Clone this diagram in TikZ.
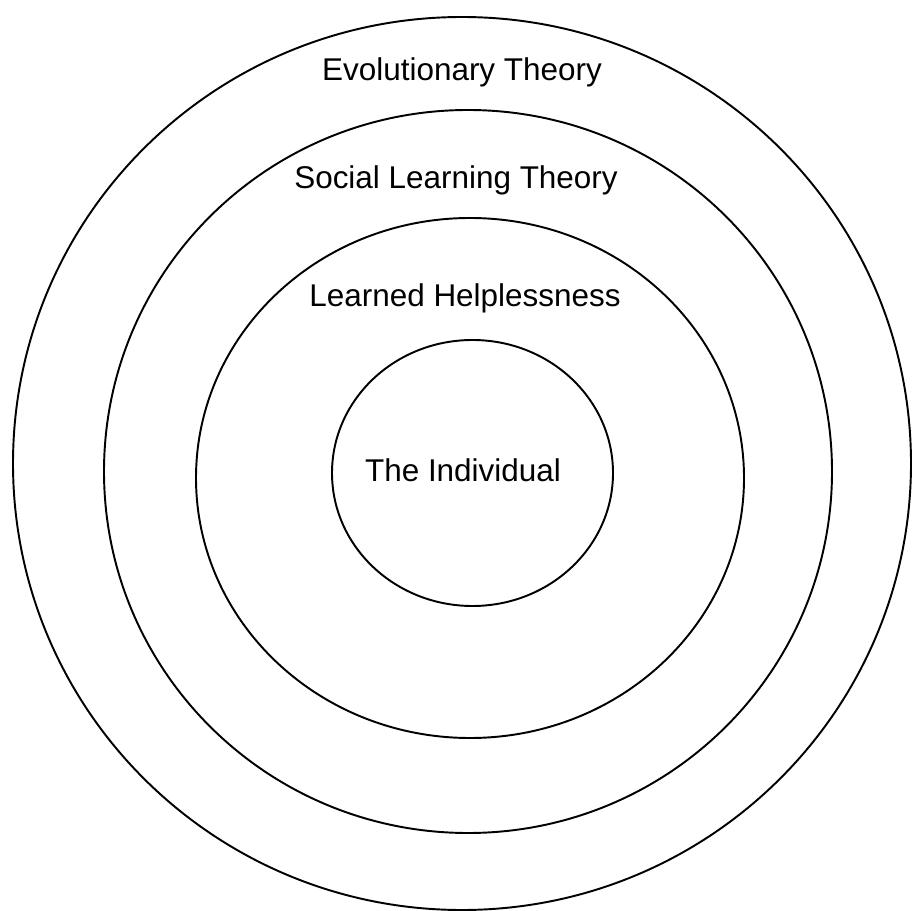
\documentclass[tikz,border=0pt]{standalone}
\usepackage{fontspec}
\setmainfont{Liberation Sans}
\tikzset{
	ring/.style={black, line width=1.1pt},
	ringlabel/.style={inner sep=0pt, font=\fontsize{17.9}{21}\selectfont}
}
\begin{document}
\begin{tikzpicture}[x=0.02cm, y=-0.02cm]
	\useasboundingbox (0,0) rectangle (912,911);
	% rings, outside in
	\draw [ring] (462,463.5) ellipse [x radius=449, y radius=446.5];
	\draw [ring] (468,471.5) ellipse [x radius=364, y radius=361.5];
	\draw [ring] (470,478) ellipse [x radius=274, y radius=260];
	\draw [ring] (472.5,473) ellipse [x radius=140.5, y radius=133];
	% labels
	\node [ringlabel] (evo) at (462,72) {Evolutionary Theory};
	\node [ringlabel] (social) at (456,180) {Social Learning Theory};
	\node [ringlabel] (helpless) at (465,298) {Learned Helplessness};
	\node [ringlabel] (indiv) at (463,470) {The Individual};
\end{tikzpicture}
\end{document}
